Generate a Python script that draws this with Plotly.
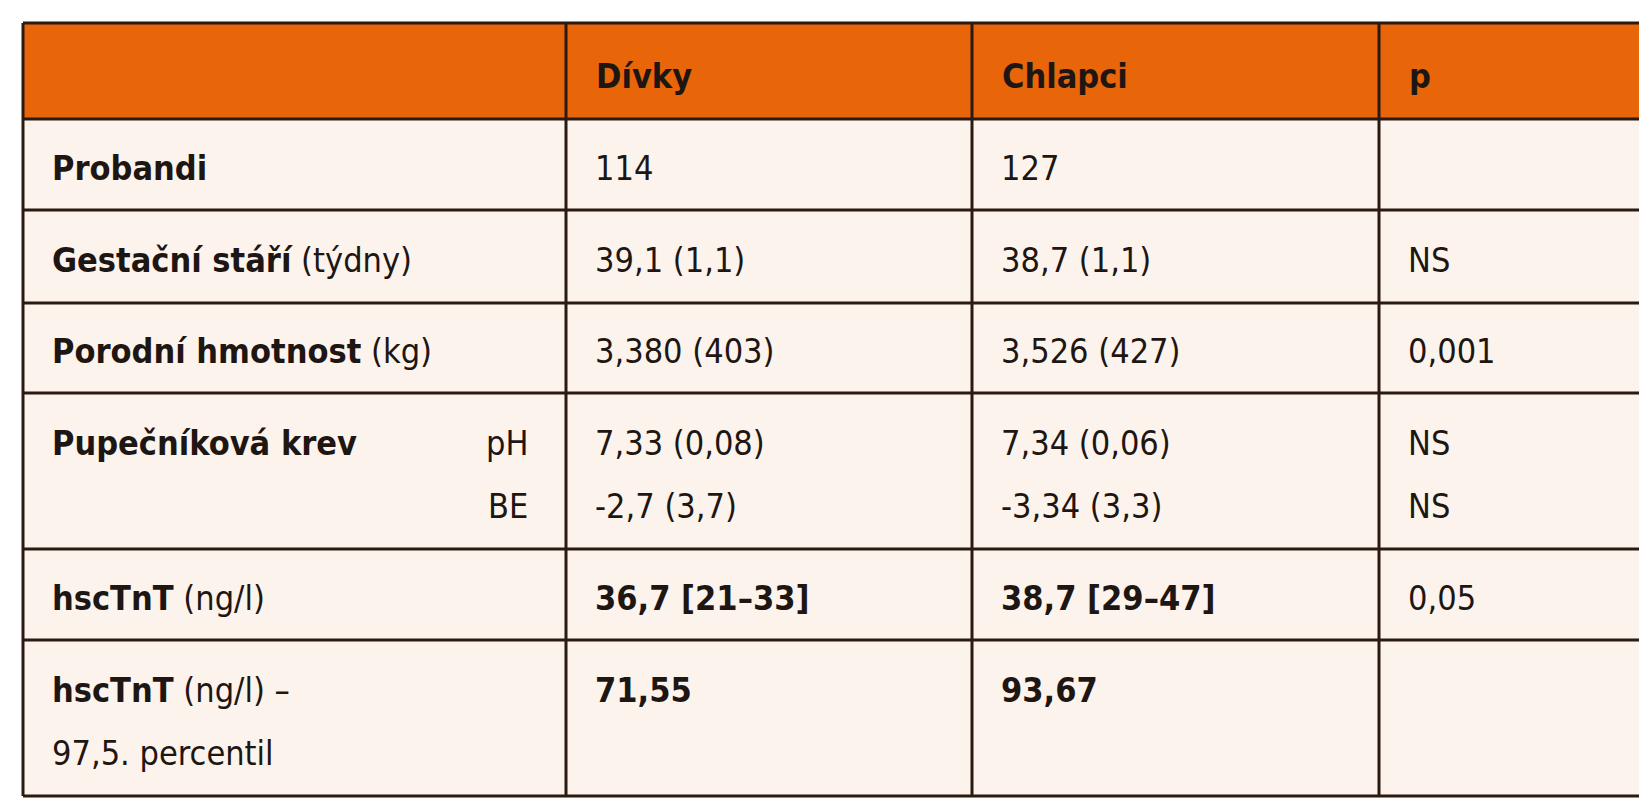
import plotly.graph_objects as go

headers = ["", "Dívky", "Chlapci", "p"]
# each row: list of lines per column
row_labels = [
    ["<b>Probandi</b>"],
    ["<b>Gestační stáří</b> (týdny)"],
    ["<b>Porodní hmotnost</b> (kg)"],
    ["<b>Pupečníková krev</b>", ""],
    ["<b>hscTnT</b> (ng/l)"],
    ["<b>hscTnT</b> (ng/l) –", "97,5. percentil"],
]
sub_labels = [[], [], [], ["pH", "BE"], [], []]
divky = [["114"], ["39,1 (1,1)"], ["3,380 (403)"], ["7,33 (0,08)", "-2,7 (3,7)"],
         ["<b>36,7 [21–33]</b>"], ["<b>71,55</b>"]]
chlapci = [["127"], ["38,7 (1,1)"], ["3,526 (427)"], ["7,34 (0,06)", "-3,34 (3,3)"],
           ["<b>38,7 [29–47]</b>"], ["<b>93,67</b>"]]
p_vals = [[""], ["NS"], ["0,001"], ["NS", "NS"], ["0,05"], [""]]

col_x = [15, 558, 964, 1371, 1635]
row_y = [15, 111, 202, 295, 385, 541, 632, 788]

ORANGE = "#E8650A"
BODY = "#FCF3EC"
LINE = "#2B1A10"
FONT = "DejaVu Sans Condensed"
FS = 34
LINE_GAP = 63

fig = go.Figure()
shapes = []
annotations = []

shapes.append(dict(type="rect", x0=col_x[0], x1=col_x[-1], y0=row_y[0], y1=row_y[1],
                   fillcolor=ORANGE, line_width=0, layer="below"))
shapes.append(dict(type="rect", x0=col_x[0], x1=col_x[-1], y0=row_y[1], y1=row_y[-1],
                   fillcolor=BODY, line_width=0, layer="below"))
for x in col_x:
    shapes.append(dict(type="line", x0=x, x1=x, y0=row_y[0], y1=row_y[-1],
                       line=dict(color=LINE, width=3)))
for y in row_y:
    shapes.append(dict(type="line", x0=col_x[0], x1=col_x[-1], y0=y, y1=y,
                       line=dict(color=LINE, width=3)))


def add_text(x, y, text, align="left"):
    annotations.append(dict(x=x, y=y, text=text, showarrow=False, xanchor=align,
                            yanchor="middle", font=dict(family=FONT, size=FS, color="#1E1612")))


for c, h in enumerate(headers):
    if h:
        add_text(col_x[c] + 28, (row_y[0] + row_y[1]) / 2 + 5, "<b>" + h + "</b>")

columns = [row_labels, divky, chlapci, p_vals]
for r in range(len(row_labels)):
    top, bot = row_y[r + 1], row_y[r + 2]
    n = max(len(col[r]) for col in columns)
    if n == 1:
        ys = [(top + bot) / 2 + 3]
    else:
        ys = [top + 50 + i * LINE_GAP for i in range(n)]
    for c, col in enumerate(columns):
        for i, t in enumerate(col[r]):
            if t:
                add_text(col_x[c] + 27, ys[i], t)
    for i, t in enumerate(sub_labels[r]):
        add_text(col_x[1] - 36, ys[i], t, align="right")

fig.update_layout(
    width=1647, height=800, margin=dict(l=0, r=0, t=0, b=0),
    paper_bgcolor="white", plot_bgcolor="white",
    xaxis=dict(range=[0, 1647], visible=False, fixedrange=True),
    yaxis=dict(range=[800, 0], visible=False, fixedrange=True),
    shapes=shapes, annotations=annotations, showlegend=False,
)
fig.write_html("out.html")
